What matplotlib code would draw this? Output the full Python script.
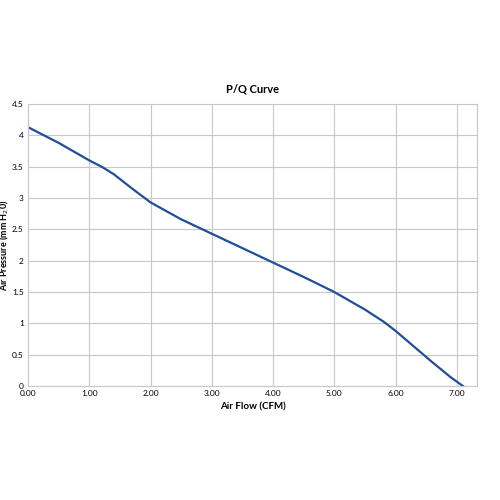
import matplotlib
matplotlib.use("Agg")
import matplotlib.pyplot as plt

plt.rcParams['font.family'] = ['Lato', 'DejaVu Sans']

flow = [0.0, 0.5, 1.0, 1.2, 1.4, 1.7, 2.0, 2.5, 3.0, 3.5, 4.0, 4.5, 5.0, 5.5, 5.8, 6.0, 6.3, 6.6, 6.9, 7.1]
pressure = [4.13, 3.88, 3.6, 3.5, 3.38, 3.15, 2.93, 2.66, 2.43, 2.2, 1.97, 1.74, 1.5, 1.22, 1.03, 0.88, 0.63, 0.38, 0.14, 0.0]
xticks = [0, 1, 2, 3, 4, 5, 6, 7]
yticks = [0, 0.5, 1, 1.5, 2, 2.5, 3, 3.5, 4, 4.5]

fig = plt.figure(figsize=(5, 5), dpi=100)
ax = fig.add_axes([0.056, 0.228, 0.898, 0.564])
ax.plot(flow, pressure, color='#1f4e9a', lw=1.6)
ax.set_xlim(0, 7.33)
ax.set_ylim(0, 4.5)
ax.set_xticks(xticks)
ax.set_xticklabels([f"{v:.2f}" for v in xticks])
ax.set_yticks(yticks)
ax.set_yticklabels([f"{v:g}" for v in yticks])
ax.tick_params(labelsize=6, length=0, pad=3)
ax.grid(True, color='#c8c8c8', lw=0.8)
for s in ax.spines.values():
    s.set_color('#c8c8c8')
ax.set_title('P/Q Curve', fontsize=8, fontweight='bold', pad=8)
ax.set_xlabel('Air Flow (CFM)', fontsize=7, fontweight='bold', labelpad=4)
ax.set_ylabel('Air Pressure (mm H$_2$0)', fontsize=6.5, fontweight='bold', labelpad=1)
fig.savefig('out.png', dpi=100)
